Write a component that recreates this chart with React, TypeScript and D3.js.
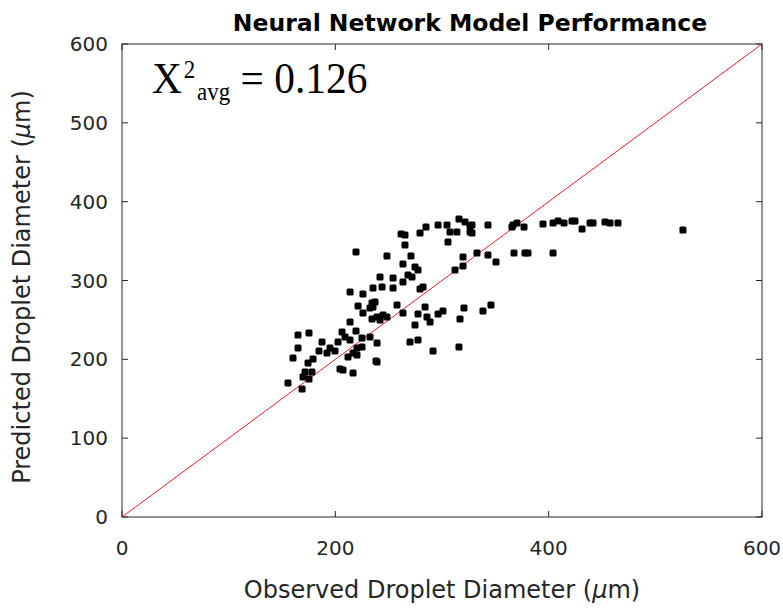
import React from "react";
import * as d3 from "d3";

const observed: number[] = [
  213.8, 225.9, 221.3, 234.4, 232.5, 237.2, 225.9, 234.4, 239.1, 213.8,
  165, 175.3, 206.3, 209.1, 219.4, 187.5, 202.5, 213.8, 225, 232.5,
  165, 195, 184.7, 192.2, 199.7, 220.3, 225, 239.1, 216.6, 160.3,
  211.9, 220.3, 179.1, 174.4, 239.1, 204.4, 207.2, 171.6, 178.1, 216.6,
  169.7, 175.3, 155.6, 168.8, 219.4, 235.3, 241.9, 261.6, 265.3, 265.3,
  279.4, 285, 296.3, 304.7, 307.5, 314, 315.9, 321.6, 326.3, 326.3,
  305.6, 248.4, 270.9, 263.4, 274.7, 277.5, 268.1, 271.9, 263.4, 254.1,
  243.8, 254.1, 279.4, 282.2, 312.2, 319.7, 319.7, 332.8, 235.3, 257.8,
  263.4, 277.5, 284.1, 285.9, 288.8, 296.3, 300.9, 320.6, 316.9, 244.7,
  241.9, 248.4, 274.7, 270, 277.5, 291.6, 315.9, 238.1, 328.1, 328.1,
  343.1, 366.6, 370.3, 365.6, 376.9, 394.7, 404.1, 408.8, 414.4, 421.9,
  424.7, 431.3, 438.8, 441.6, 452.8, 457.5, 465, 525.9, 343.1, 350.6,
  367.5, 377.8, 380.6, 404.1, 338.4, 345.9,
];

const predicted: number[] = [
  285.4, 282.9, 267.7, 271.5, 265.1, 272.7, 258.8, 251.2, 253.7, 247.4,
  230.9, 233.4, 234.7, 228.3, 235.9, 222, 222, 224.5, 227.1, 228.3,
  214.4, 214.4, 210.6, 208, 210.6, 214.4, 215.6, 220.7, 208, 201.7,
  203, 205.5, 200.4, 195.3, 196.6, 187.7, 186.5, 183.9, 183.9, 182.7,
  177.6, 175.1, 170, 162.4, 336.2, 290.5, 304.4, 359, 357.7, 345,
  360.3, 367.9, 370.4, 370.4, 361.5, 361.5, 378, 374.2, 369.1, 361.5,
  348.8, 331.1, 331.1, 320.9, 317.1, 313.3, 307, 304.4, 298.1, 303.2,
  291.8, 290.5, 289.2, 291.8, 313.3, 329.8, 318.4, 334.9, 266.4, 268.9,
  258.8, 257.5, 266.4, 253.7, 247.4, 257.5, 261.3, 265.1, 251.2, 256.2,
  249.9, 253.7, 243.6, 222, 224.5, 210.6, 215.6, 197.9, 370.4, 360.3,
  370.4, 370.4, 372.9, 367.9, 367.9, 371.7, 372.9, 375.5, 372.9, 375.5,
  375.5, 365.3, 372.9, 372.9, 374.2, 372.9, 372.9, 364, 332.4, 323.5,
  334.9, 334.9, 334.9, 334.9, 261.3, 268.9,
];

const xTicks: number[] = [0, 200, 400, 600];
const yTicks: number[] = [0, 100, 200, 300, 400, 500, 600];
const titleText = "Neural Network Model Performance";
const xLabel = "Observed Droplet Diameter (";
const yLabel = "Predicted Droplet Diameter (";
const statValue = "0.126";

export default function App() {
  const W = 783;
  const H = 608;
  const left = 122, right = 762, top = 44, bottom = 517;
  const x = d3.scaleLinear().domain([0, 600]).range([left, right]);
  const y = d3.scaleLinear().domain([0, 600]).range([bottom, top]);
  const axisColor = "#262626";
  const font = "DejaVu Sans, sans-serif";
  const pts = observed.map((o, i) => [o, predicted[i]] as [number, number]);
  const line = d3.line<[number, number]>().x((d) => x(d[0])).y((d) => y(d[1]));
  const tickLen = 6;
  const ms = 7;

  return (
    <svg
      width={W}
      height={H}
      style={{ position: "absolute", left: 0, top: 0, background: "#fff" }}
    >
      <rect x={0} y={0} width={W} height={H} fill="#fff" />
      <rect
        x={left}
        y={top}
        width={right - left}
        height={bottom - top}
        fill="none"
        stroke={axisColor}
        strokeWidth={1}
      />
      {xTicks.map((t) => (
        <g key={"x" + t}>
          <line x1={x(t)} x2={x(t)} y1={bottom} y2={bottom - tickLen} stroke={axisColor} />
          <line x1={x(t)} x2={x(t)} y1={top} y2={top + tickLen} stroke={axisColor} />
          <text
            x={x(t)}
            y={bottom + 38}
            textAnchor="middle"
            fontFamily={font}
            fontSize={20}
            fill={axisColor}
          >
            {t}
          </text>
        </g>
      ))}
      {yTicks.map((t) => (
        <g key={"y" + t}>
          <line x1={left} x2={left + tickLen} y1={y(t)} y2={y(t)} stroke={axisColor} />
          <line x1={right} x2={right - tickLen} y1={y(t)} y2={y(t)} stroke={axisColor} />
          <text
            x={left - 14}
            y={y(t)}
            dy="0.35em"
            textAnchor="end"
            fontFamily={font}
            fontSize={20}
            fill={axisColor}
          >
            {t}
          </text>
        </g>
      ))}
      <path
        d={line([
          [0, 0],
          [600, 600],
        ]) || ""}
        stroke="#e8202a"
        strokeWidth={1}
        fill="none"
      />
      {pts.map((p, i) => (
        <rect
          key={i}
          x={x(p[0]) - ms / 2}
          y={y(p[1]) - ms / 2}
          width={ms}
          height={ms}
          rx={1.5}
          fill="#000"
        />
      ))}
      <text
        x={470}
        y={31}
        textAnchor="middle"
        fontFamily={font}
        fontWeight="bold"
        fontSize={23.5}
        fill="#000"
      >
        {titleText}
      </text>
      <text
        x={(left + right) / 2}
        y={598}
        textAnchor="middle"
        fontFamily={font}
        fontSize={24}
        fill={axisColor}
      >
        {xLabel}
        <tspan fontStyle="italic">μ</tspan>
        {"m)"}
      </text>
      <text
        transform={`translate(30,287) rotate(-90)`}
        textAnchor="middle"
        fontFamily={font}
        fontSize={24}
        fill={axisColor}
      >
        {yLabel}
        <tspan fontStyle="italic">μ</tspan>
        {"m)"}
      </text>
      <text
        transform="translate(152,93) scale(0.92,1)"
        x={0}
        y={0}
        fontFamily="Liberation Serif, serif"
        fontSize={45}
        fill="#000"
      >
        X
        <tspan fontSize={25} dy={-15} dx={2}>2</tspan>
        <tspan fontSize={25} dy={22} dx={2}>avg</tspan>
        <tspan dy={-7}>{" = " + statValue}</tspan>
      </text>
    </svg>
  );
}
